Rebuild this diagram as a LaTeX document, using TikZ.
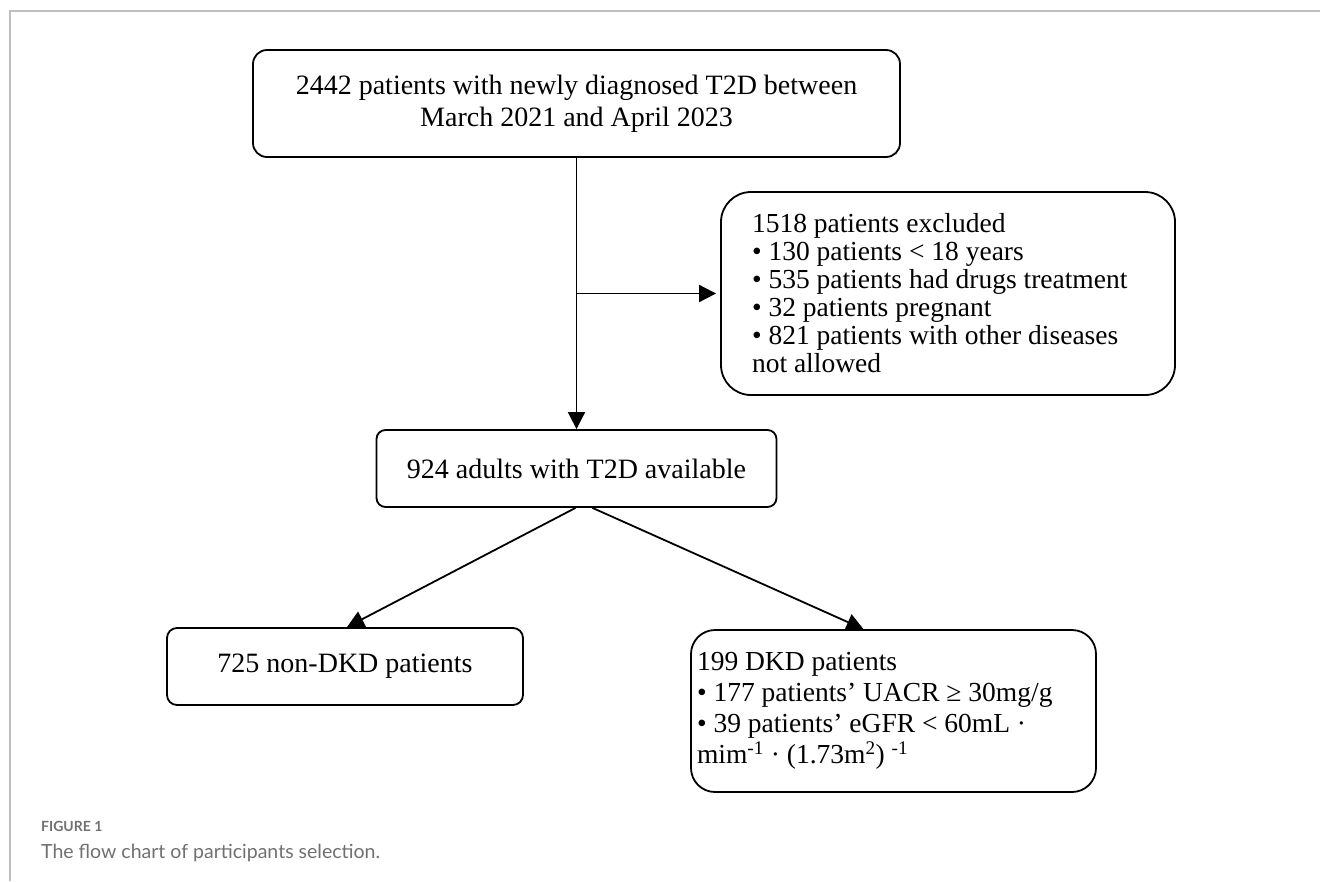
\documentclass[tikz,border=0pt]{standalone}
\usepackage{fontspec}
\setmainfont{Liberation Serif}
\newfontfamily\capfont{Lato}
\usetikzlibrary{arrows.meta}
\definecolor{framegray}{RGB}{190,190,190}
\definecolor{capgray}{RGB}{112,112,112}
\tikzstyle{box} = [draw=black, line width=1.8pt, inner sep=0pt, font=\fontsize{27.5}{29}\selectfont]
\tikzstyle{arr} = [draw=black, line width=1.8pt, -{Triangle[length=17pt,width=17pt]}]
\tikzstyle{caption} = [anchor=base west, inner sep=0pt, text=capgray]
\newcommand{\bul}{•}

\begin{document}
\begin{tikzpicture}[x=1pt,y=-1pt]
	\useasboundingbox (0,0) rectangle (1320,881);
	\draw[framegray, line width=1.5pt] (10,881) -- (10,11) -- (1320,11);
	\node[box, rounded corners=14pt, minimum width=647pt, minimum height=107pt, align=center,
		font=\fontsize{28}{32}\selectfont] (total) at (576.5,103.5)
		{2442 patients with newly diagnosed T2D between\\March 2021 and April 2023};
	\node[box, rounded corners=30pt, minimum width=454pt, minimum height=203pt, text width=392pt,
		inner xsep=31pt, align=flush left, font=\fontsize{27.5}{28}\selectfont] (excl) at (948,293.5)
		{1518 patients excluded\\
		\bul\ 130 patients < 18 years\\
		\bul\ 535 patients had drugs treatment\\
		\bul\ 32 patients pregnant\\
		\bul\ 821 patients with other diseases\\
		not allowed};
	\node[box, rounded corners=9pt, minimum width=400pt, minimum height=77pt, font=\fontsize{28}{29}\selectfont]
		(adults) at (576.5,468.5) {924 adults with T2D available};
	\node[box, rounded corners=10pt, minimum width=356pt, minimum height=77pt, font=\fontsize{28}{29}\selectfont]
		(nondkd) at (345,666.5) {725 non-DKD patients};
	\node[box, rounded corners=24pt, minimum width=405pt, minimum height=162pt, text width=393pt,
		inner xsep=6pt, align=flush left, font=\fontsize{27.5}{31}\selectfont] (dkd) at (893.5,711)
		{199 DKD patients\\
		\bul\ 177 patients’ UACR ≥ 30mg/g\\
		\bul\ 39 patients’ eGFR < 60mL ·\\
		mim\textsuperscript{-1} · (1.73m\textsuperscript{2}) \textsuperscript{-1}};
	\coordinate (branch) at (total.south |- excl.west);
	\draw[arr] (total.south) -- (adults.north);
	\draw[arr, shorten >=4pt] (branch) -- (excl.west);
	\draw[arr] ([xshift=-1pt]adults.south) -- ([xshift=2pt]nondkd.north);
	\draw[arr] ([xshift=16pt]adults.south) -- ([xshift=-30pt]dkd.north);
	\node[caption, font=\capfont\bfseries\fontsize{14}{16}\selectfont] (fignum) at (41,831) {FIGURE 1};
	\node[caption, font=\capfont\fontsize{19.5}{22}\selectfont] (figtext) at (41,858)
		{The flow chart of participants selection.};
\end{tikzpicture}
\end{document}
